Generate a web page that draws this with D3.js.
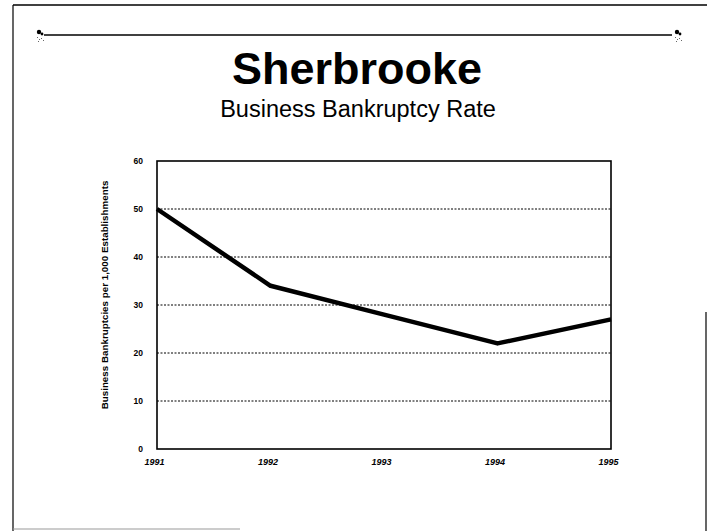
<!DOCTYPE html>
<html>
<head>
<meta charset="utf-8">
<script src="https://cdn.jsdelivr.net/npm/d3@7"></script>
<style>
  html, body { margin: 0; padding: 0; background: #fff; }
  svg { display: block; }
</style>
</head>
<body>
<svg id="chart" width="707" height="531"></svg>
<script>
// Business bankruptcies per 1,000 establishments, Sherbrooke
const years = ["1991", "1992", "1993", "1994", "1995"];
const rates = [50, 34, 28, 22, 27];
const yTicks = [0, 10, 20, 30, 40, 50, 60];

const svg = d3.select("#chart");
const W = 707, H = 531;
const plot = { left: 157, right: 611, top: 161, bottom: 449 };
const font = "Liberation Sans, Arial, sans-serif";

// Page frame
const frame = svg.append("g").attr("stroke", "#000").attr("fill", "none");
frame.append("line").attr("x1", 13).attr("y1", 5).attr("x2", W).attr("y2", 5).attr("stroke-width", 1.5);
frame.append("line").attr("x1", 13).attr("y1", 5).attr("x2", 13).attr("y2", H).attr("stroke-width", 1.2);
frame.append("line").attr("x1", 706).attr("y1", 312).attr("x2", 706).attr("y2", H).attr("stroke-width", 1.2);
frame.append("line").attr("x1", 13).attr("y1", 529).attr("x2", 240).attr("y2", 529)
  .attr("stroke", "#999").attr("stroke-width", 1);

// Decorative rule under the header with small ornaments at each end
frame.append("line").attr("x1", 44).attr("y1", 35).attr("x2", 672).attr("y2", 35).attr("stroke-width", 1.5);
[[39, 33], [677, 33]].forEach(([cx, cy]) => {
  const o = svg.append("g").attr("fill", "#000");
  o.append("circle").attr("cx", cx).attr("cy", cy - 1).attr("r", 2.2);
  o.append("circle").attr("cx", cx + 3).attr("cy", cy + 1).attr("r", 1.4);
  [[-2, 4], [0, 6], [2, 5], [4, 7], [-1, 8]].forEach(([dx, dy]) =>
    o.append("rect").attr("x", cx + dx).attr("y", cy + dy).attr("width", 1).attr("height", 1).attr("fill", "#666"));
});

// Titles
svg.append("text")
  .attr("x", 357).attr("y", 84)
  .attr("text-anchor", "middle")
  .attr("font-family", font)
  .attr("font-weight", "bold")
  .attr("font-size", 45)
  .text("Sherbrooke");
svg.append("text")
  .attr("x", 358).attr("y", 117)
  .attr("text-anchor", "middle")
  .attr("font-family", font)
  .attr("font-size", 23.5)
  .text("Business Bankruptcy Rate");

// Scales
const x = d3.scalePoint().domain(years).range([plot.left, plot.right]);
const y = d3.scaleLinear().domain([0, 60]).range([plot.bottom, plot.top]);

// Dotted gridlines
svg.append("g")
  .selectAll("line")
  .data(yTicks.filter(t => t > 0 && t < 60))
  .join("line")
  .attr("x1", plot.left).attr("x2", plot.right)
  .attr("y1", d => y(d)).attr("y2", d => y(d))
  .attr("stroke", "#000")
  .attr("stroke-width", 1)
  .attr("stroke-dasharray", "2,1.5");

// Y axis labels
const yAxis = d3.axisLeft(y).tickValues(yTicks).tickSize(0).tickPadding(14);
const ya = svg.append("g").attr("transform", `translate(${plot.left},0)`).call(yAxis);
ya.select(".domain").remove();
ya.selectAll("text")
  .attr("font-family", font)
  .attr("font-weight", "bold")
  .attr("font-size", 8.5)
  .attr("fill", "#000");

// X axis labels
const xAxis = d3.axisBottom(x).tickSize(0).tickPadding(10);
const xa = svg.append("g").attr("transform", `translate(0,${plot.bottom})`).call(xAxis);
xa.select(".domain").remove();
xa.selectAll("text")
  .attr("font-family", font)
  .attr("font-weight", "bold")
  .attr("font-style", "italic")
  .attr("font-size", 9)
  .attr("fill", "#000")
  .attr("dx", -3);

// Plot frame
svg.append("rect")
  .attr("x", plot.left).attr("y", plot.top)
  .attr("width", plot.right - plot.left).attr("height", plot.bottom - plot.top)
  .attr("fill", "none").attr("stroke", "#000").attr("stroke-width", 1.6);

// Y axis title
svg.append("text")
  .attr("transform", `translate(108,${(plot.top + plot.bottom) / 2 - 10}) rotate(-90)`)
  .attr("text-anchor", "middle")
  .attr("font-family", font)
  .attr("font-weight", "bold")
  .attr("font-size", 9.8)
  .text("Business Bankruptcies per 1,000 Establishments");

// Data line
const line = d3.line().x((d, i) => x(years[i])).y(d => y(d));
svg.append("path")
  .datum(rates)
  .attr("d", line)
  .attr("fill", "none")
  .attr("stroke", "#000")
  .attr("stroke-width", 4.5)
  .attr("stroke-linejoin", "round");
</script>
</body>
</html>
